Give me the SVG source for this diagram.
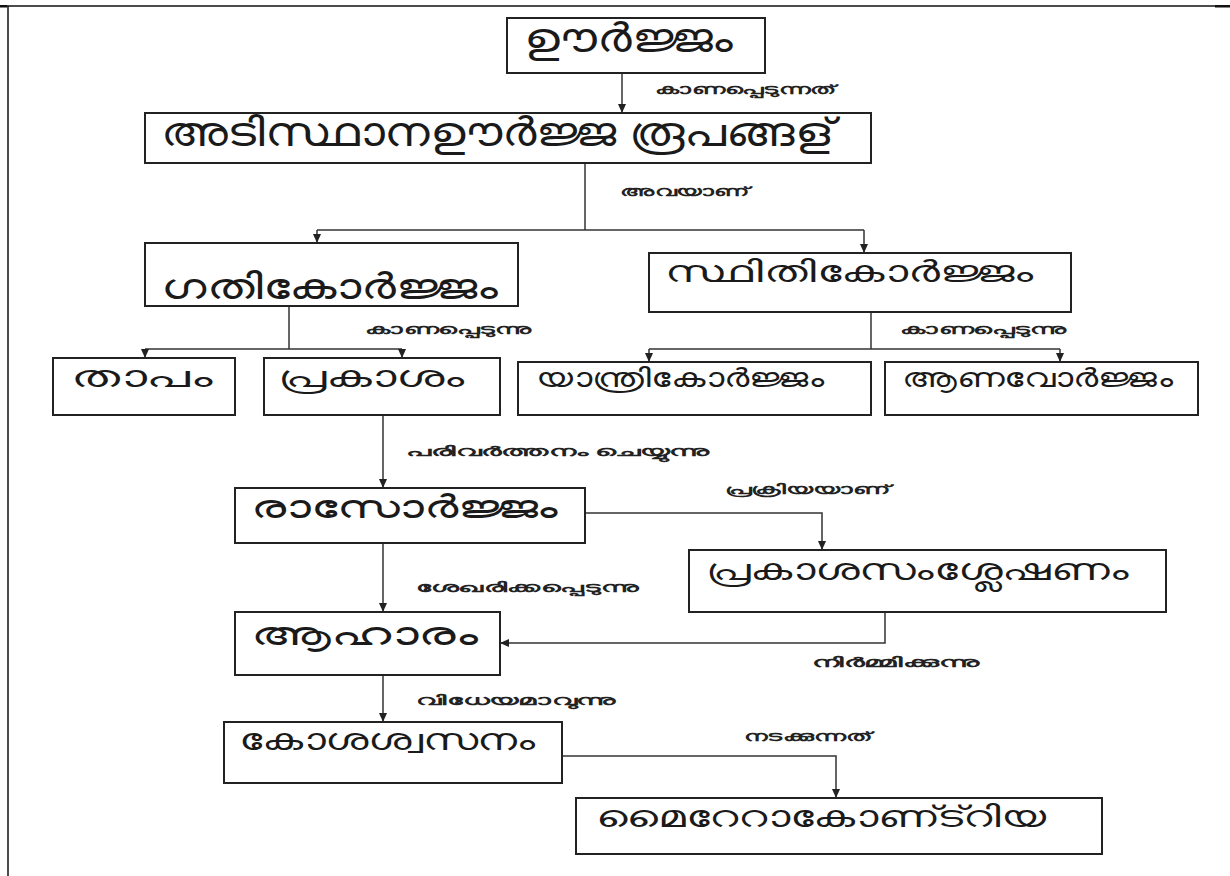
<svg xmlns="http://www.w3.org/2000/svg" width="1230" height="876" viewBox="0 0 1230 876">
<defs>
<marker id="ah" markerUnits="userSpaceOnUse" markerWidth="10" markerHeight="10" viewBox="0 0 10 10" refX="9" refY="5" orient="auto">
<path d="M0,1 L9,5 L0,9 Z" fill="#222"/>
</marker>
<style>
.box{fill:#fff;stroke:#222;stroke-width:2}
.t{font-family:"Noto Sans","DejaVu Sans",sans-serif;fill:#1a1a1a}
.lbl{font-family:"Noto Sans","DejaVu Sans",sans-serif;fill:#222;font-size:13px;font-weight:bold}
.c{fill:none;stroke:#333;stroke-width:1.5}
.ca{fill:none;stroke:#333;stroke-width:1.5;marker-end:url(#ah)}
</style>
</defs>
<rect width="1230" height="876" fill="#fff"/>
<g id="frame">
<line x1="0" y1="6" x2="1230" y2="6" stroke="#111" stroke-width="1.5"/>
<rect x="0" y="5" width="7" height="2.5" fill="#111"/>
<rect x="1215" y="5" width="15" height="2.5" fill="#111"/>
<line x1="8" y1="6" x2="8" y2="876" stroke="#111" stroke-width="1.5"/>
</g>
<g id="connectors">
<line class="ca" x1="622" y1="73" x2="622" y2="113"/>
<line class="c" x1="585" y1="163" x2="585" y2="230"/>
<line class="c" x1="317" y1="230" x2="864" y2="230"/>
<line class="ca" x1="317" y1="230" x2="317" y2="243"/>
<line class="ca" x1="864" y1="230" x2="864" y2="253"/>
<line class="c" x1="289" y1="306" x2="289" y2="349" stroke="#777"/>
<line class="c" x1="145" y1="349" x2="402" y2="349"/>
<line class="ca" x1="145" y1="349" x2="145" y2="358"/>
<line class="ca" x1="402" y1="349" x2="402" y2="358"/>
<line class="c" x1="871" y1="312" x2="871" y2="349" stroke="#777"/>
<line class="c" x1="649" y1="349" x2="1060" y2="349"/>
<line class="ca" x1="649" y1="349" x2="649" y2="362"/>
<line class="ca" x1="1060" y1="349" x2="1060" y2="362"/>
<line class="ca" x1="383" y1="415" x2="383" y2="488"/>
<polyline class="ca" points="585,513 822,513 822,550"/>
<line class="ca" x1="383" y1="543" x2="383" y2="612"/>
<polyline class="ca" points="885,612 885,643 500,643"/>
<line class="ca" x1="383" y1="675" x2="383" y2="722"/>
<polyline class="ca" points="562,756 836,756 836,798"/>
</g>
<g id="n1"><rect class="box" x="507" y="18" width="258" height="55"/><text class="t" x="524" y="52" font-size="40" textLength="209" lengthAdjust="spacingAndGlyphs">ഊർജ്ജം</text></g>
<g id="n2"><rect class="box" x="145" y="113" width="726" height="50"/><text class="t" x="161" y="146" font-size="40" textLength="674" lengthAdjust="spacingAndGlyphs">അടിസ്ഥാനഊർജ്ജ രൂപങ്ങള്</text></g>
<g id="n3"><rect class="box" x="145" y="243" width="373" height="63"/><text class="t" x="161" y="299" font-size="36" textLength="337" lengthAdjust="spacingAndGlyphs">ഗതികോർജ്ജം</text></g>
<g id="n4"><rect class="box" x="649" y="253" width="422" height="59"/><text class="t" x="665" y="282" font-size="30" textLength="369" lengthAdjust="spacingAndGlyphs">സ്ഥിതികോർജ്ജം</text></g>
<g id="n5"><rect class="box" x="53" y="358" width="182" height="57"/><text class="t" x="71" y="387" font-size="30" textLength="142" lengthAdjust="spacingAndGlyphs">താപം</text></g>
<g id="n6"><rect class="box" x="264" y="358" width="236" height="57"/><text class="t" x="278" y="387" font-size="30" textLength="187" lengthAdjust="spacingAndGlyphs">പ്രകാശം</text></g>
<g id="n7"><rect class="box" x="518" y="362" width="353" height="53"/><text class="t" x="536" y="387" font-size="26" textLength="288" lengthAdjust="spacingAndGlyphs">യാന്ത്രികോർജ്ജം</text></g>
<g id="n8"><rect class="box" x="885" y="362" width="313" height="53"/><text class="t" x="902" y="387" font-size="26" textLength="271" lengthAdjust="spacingAndGlyphs">ആണവോർജ്ജം</text></g>
<g id="n9"><rect class="box" x="235" y="488" width="350" height="55"/><text class="t" x="251" y="518" font-size="32" textLength="306" lengthAdjust="spacingAndGlyphs">രാസോർജ്ജം</text></g>
<g id="n10"><rect class="box" x="689" y="550" width="477" height="62"/><text class="t" x="706" y="580" font-size="30" textLength="423" lengthAdjust="spacingAndGlyphs">പ്രകാശസംശ്ലേഷണം</text></g>
<g id="n11"><rect class="box" x="235" y="612" width="265" height="63"/><text class="t" x="251" y="645" font-size="32" textLength="226" lengthAdjust="spacingAndGlyphs">ആഹാരം</text></g>
<g id="n12"><rect class="box" x="224" y="722" width="338" height="61"/><text class="t" x="239" y="750" font-size="30" textLength="297" lengthAdjust="spacingAndGlyphs">കോശശ്വസനം</text></g>
<g id="n13"><rect class="box" x="576" y="798" width="526" height="56"/><text class="t" x="596" y="827" font-size="30" textLength="451" lengthAdjust="spacingAndGlyphs">മൈറേറാകോണ്ട്റിയ</text></g>
<g id="labels">
<text class="lbl" x="655" y="94" textLength="180" lengthAdjust="spacingAndGlyphs">കാണപ്പെടുന്നത്</text>
<text class="lbl" x="620" y="196" textLength="129" lengthAdjust="spacingAndGlyphs">അവയാണ്</text>
<text class="lbl" x="365" y="334" textLength="167" lengthAdjust="spacingAndGlyphs">കാണപ്പെടുന്നു</text>
<text class="lbl" x="900" y="334" textLength="167" lengthAdjust="spacingAndGlyphs">കാണപ്പെടുന്നു</text>
<text class="lbl" x="406" y="456" textLength="304" lengthAdjust="spacingAndGlyphs">പരിവർത്തനം  ചെയ്യുന്നു</text>
<text class="lbl" x="725" y="494" textLength="165" lengthAdjust="spacingAndGlyphs">പ്രക്രിയയാണ്</text>
<text class="lbl" x="416" y="592" textLength="223" lengthAdjust="spacingAndGlyphs">ശേഖരിക്കപ്പെടുന്നു</text>
<text class="lbl" x="812" y="667" textLength="168" lengthAdjust="spacingAndGlyphs">നിർമ്മിക്കുന്നു</text>
<text class="lbl" x="416" y="705" textLength="200" lengthAdjust="spacingAndGlyphs">വിധേയമാവുന്നു</text>
<text class="lbl" x="744" y="741" textLength="127" lengthAdjust="spacingAndGlyphs">നടക്കുന്നത്</text>
</g>
</svg>
